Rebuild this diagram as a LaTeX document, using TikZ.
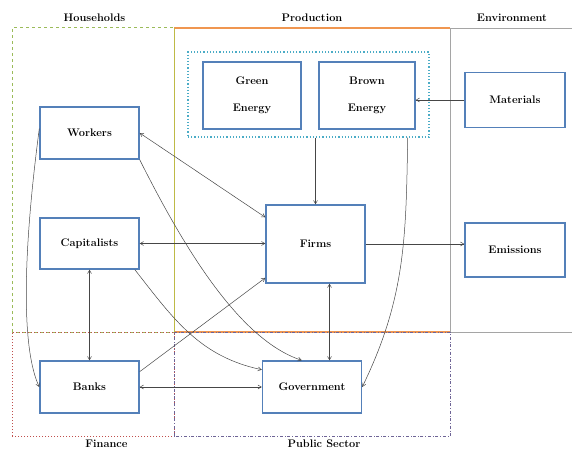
\documentclass[tikz,border=0pt]{standalone}
\usepackage{tikz}
\usetikzlibrary{arrows}
\usepackage{color}
\definecolor{boxblue}{RGB}{84,128,185}
\definecolor{hhgreen}{RGB}{155,187,89}
\definecolor{prodleft}{RGB}{190,186,70}
\definecolor{prodorange}{RGB}{240,150,80}
\definecolor{envgrey}{RGB}{165,165,165}
\definecolor{finred}{RGB}{192,80,77}
\definecolor{pubpurple}{RGB}{110,100,150}
\definecolor{energyteal}{RGB}{75,172,198}
\definecolor{linkgrey}{RGB}{70,70,70}
\tikzstyle{agentstyle}=[rectangle, draw=boxblue, line width=1.4pt,
minimum width=99pt, minimum height=52pt, inner sep=0pt, fill=white,
font=\bfseries\fontsize{11}{27}\selectfont, align=center]
\tikzstyle{sectorstyle}=[font=\bfseries\fontsize{11}{12}\selectfont]
\tikzstyle{linkstyle}=[linkgrey, line width=0.5pt, >=angle 60]

\begin{document}
\begin{tikzpicture}[x=1pt,y=1pt]
\useasboundingbox (0,0) rectangle (572,450);

% Sectors
\draw[hhgreen, dashed, line width=1pt] (12,118) rectangle (174,422);
\draw[prodorange, line width=1.4pt] (174,422) -- (450,422);
\draw[prodorange, line width=1.2pt] (174,118) -- (450,118);
\draw[prodleft, line width=1pt] (174,422) -- (174,118);
\draw[envgrey, line width=0.8pt] (450,422) -- (572,422)
		(450,422) -- (450,118) -- (572,118);
\draw[finred, dotted, line width=1pt] (12,14) rectangle (174,118);
\draw[pubpurple, dash dot, line width=1pt] (174,14) rectangle (450,118);

\path (94.5,432) node[sectorstyle] (households) {Households}
	(312,432) node[sectorstyle] (production) {Production}
	(512,432) node[sectorstyle] (environment) {Environment}
	(106.5,6) node[sectorstyle] (finance) {Finance}
	(324,6) node[sectorstyle] (public) {Public Sector};

% Energy
\path (308.5,355.5) node[draw=energyteal, dotted, line width=1.2pt,
	minimum width=241pt, minimum height=85pt] (energy) {};
\path (252,354.5) node[agentstyle, minimum width=98pt, minimum height=67pt] (green) {Green\\Energy}
	(367,354.5) node[agentstyle, minimum width=96pt, minimum height=67pt] (brown) {Brown\\Energy};

% Agents
\path (89.5,317) node[agentstyle] (workers) {Workers}
	(89.5,206.5) node[agentstyle, minimum height=51pt] (capitalists) {Capitalists}
	(89.5,63) node[agentstyle] (banks) {Banks}
	(315.5,206) node[agentstyle, minimum height=78pt] (firms) {Firms}
	(312,63) node[agentstyle] (government) {Government}
	(515,350) node[agentstyle, minimum width=100pt, minimum height=55pt] (materials) {Materials}
	(515,200) node[agentstyle, minimum width=100pt, minimum height=54pt] (emissions) {Emissions};

% Links
\draw[linkstyle,<->] (workers.east) -- (firms.152);
\draw[linkstyle,->] (workers.175) .. controls (22,190) and (22,100) .. (banks.west);
\draw[linkstyle,->] (workers.south east) .. controls (185,200) and (240,110) .. (government.111);
\draw[linkstyle,<->] (capitalists.east) -- (capitalists.east -| firms.west);
\draw[linkstyle,<->] (capitalists.south) -- (banks.north);
\draw[linkstyle,->] (capitalists.-30) to[out=-52,in=168] (government.161);
\draw[linkstyle,<->] (banks.east) -- (government.west);
\draw[linkstyle,->] (banks.17) -- (firms.214);
\draw[linkstyle,->] (firms.north |- energy.south) -- (firms.north);
\draw[linkstyle,->] (materials.west) -- (materials.west -| brown.east);
\draw[linkstyle,->] ([xshift=-8pt]energy.south -| brown.east) to[out=-91,in=64] (government.east);
\draw[linkstyle,->] (firms.east) -- (firms.east -| emissions.west);
\draw[linkstyle,<->] ([xshift=14pt]firms.south) -- ([xshift=14pt]firms.south |- government.north);

\end{tikzpicture}
\end{document}
